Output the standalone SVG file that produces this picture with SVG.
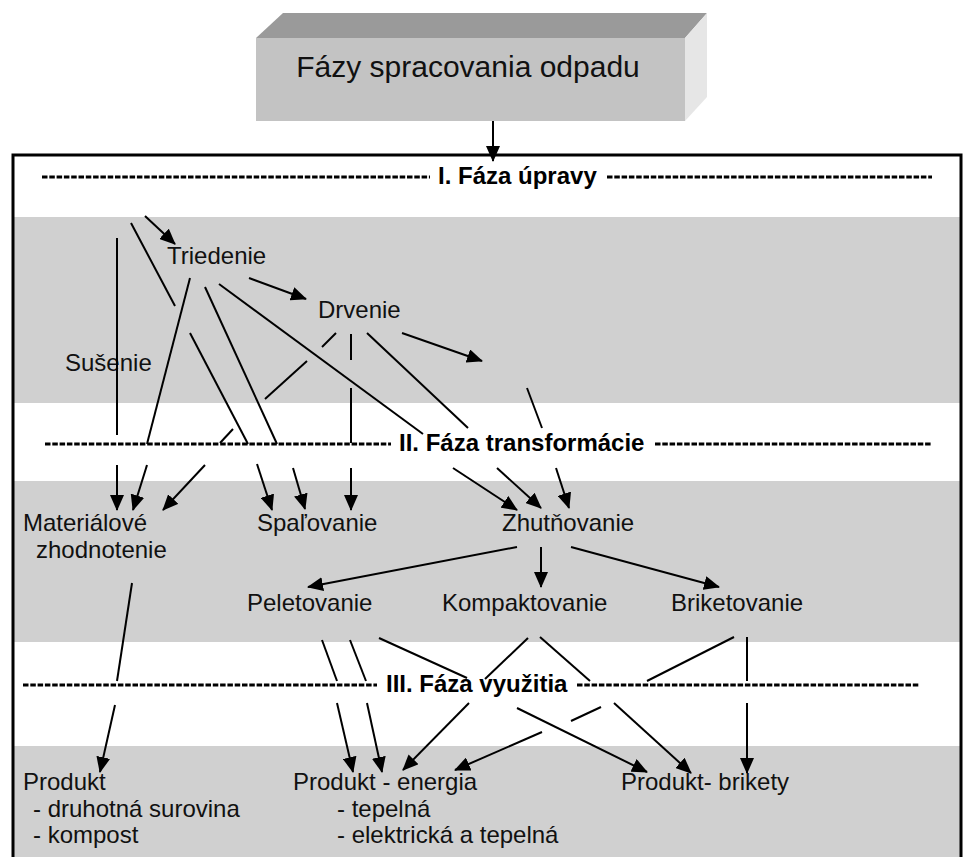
<svg xmlns="http://www.w3.org/2000/svg" width="968" height="857" viewBox="0 0 968 857">
<defs>
<style>
.t{font-family:"Liberation Sans",Arial,sans-serif;font-size:24px;fill:#111}
.b{font-family:"Liberation Sans",Arial,sans-serif;font-size:24px;font-weight:bold;fill:#000}
.band{fill:#d0d0d0}
.dash{stroke:#000;stroke-width:3;stroke-dasharray:5.5 1.8;fill:none}
.c line{stroke:#000;stroke-width:2;fill:none}
.c .a{marker-end:url(#ah)}
</style>
<marker id="ah" markerUnits="userSpaceOnUse" markerWidth="16" markerHeight="14" refX="15" refY="7" orient="auto">
<path d="M0,0 L16,7 L0,14 z" fill="#000"/>
</marker>
</defs>
<rect width="968" height="857" fill="#fff"/>
<!-- bands -->
<rect class="band" x="13" y="217" width="948" height="186"/>
<rect class="band" x="13" y="481" width="948" height="161"/>
<rect class="band" x="13" y="746" width="948" height="111"/>
<!-- frame -->
<path d="M13,870 L13,155 L961,155 L961,870" fill="none" stroke="#000" stroke-width="3"/>

<g id="title">
<polygon points="256,38 283,13 707,13 685,38" fill="#9a9a9a"/>
<polygon points="685,38 707,13 707,97 685,121" fill="#e6e6e6"/>
<rect x="256" y="38" width="429" height="83" fill="#c3c3c3"/>
<text x="468" y="77" text-anchor="middle" class="t" style="font-size:30px">Fázy spracovania odpadu</text>
</g>

<g id="phase1">
<line class="dash" x1="42" y1="177" x2="430" y2="177"/>
<text class="b" x="438" y="184">I. Fáza úpravy</text>
<line class="dash" x1="607" y1="177" x2="932" y2="177"/>
</g>
<g id="phase2">
<line class="dash" x1="45" y1="444" x2="391" y2="444"/>
<text class="b" x="399" y="451">II. Fáza transformácie</text>
<line class="dash" x1="655" y1="444" x2="932" y2="444"/>
</g>
<g id="phase3">
<line class="dash" x1="23" y1="685" x2="377" y2="685"/>
<text class="b" x="386" y="692">III. Fáza využitia</text>
<line class="dash" x1="577" y1="685" x2="919" y2="685"/>
</g>

<g id="triedenie"><text class="t" x="167" y="264">Triedenie</text></g>
<g id="drvenie"><text class="t" x="318" y="318">Drvenie</text></g>
<g id="susenie"><text class="t" x="65" y="371">Sušenie</text></g>
<g id="materialove"><text class="t" x="23" y="531">Materiálové</text><text class="t" x="36" y="558">zhodnotenie</text></g>
<g id="spalovanie"><text class="t" x="257" y="531">Spaľovanie</text></g>
<g id="zhutnovanie"><text class="t" x="502" y="531">Zhutňovanie</text></g>
<g id="peletovanie"><text class="t" x="247" y="611">Peletovanie</text></g>
<g id="kompaktovanie"><text class="t" x="442" y="611">Kompaktovanie</text></g>
<g id="briketovanie"><text class="t" x="671" y="611">Briketovanie</text></g>
<g id="produkt1"><text class="t" x="23" y="790">Produkt</text><text class="t" x="33" y="817">- druhotná surovina</text><text class="t" x="33" y="843">- kompost</text></g>
<g id="produkt2"><text class="t" x="293" y="790">Produkt - energia</text><text class="t" x="337" y="817">- tepelná</text><text class="t" x="337" y="843">- elektrická a tepelná</text></g>
<g id="produkt3"><text class="t" x="621" y="790">Produkt- brikety</text></g>

<g id="connectors" class="c">
<line class="a" x1="493" y1="121" x2="493" y2="161"/>
<!-- phase I -->
<line class="a" x1="145" y1="216" x2="175" y2="244"/>
<line class="a" x1="249" y1="278" x2="306" y2="299"/>
<line class="a" x1="402" y1="333" x2="482" y2="361"/>
<line x1="131" y1="223" x2="175" y2="306"/>
<line x1="190" y1="333" x2="248" y2="444"/>
<line x1="117" y1="238" x2="117" y2="435"/>
<line x1="190" y1="278" x2="147" y2="444"/>
<line x1="205" y1="287" x2="277" y2="444"/>
<line x1="219" y1="284" x2="423" y2="434"/>
<line x1="336" y1="333" x2="322" y2="347"/>
<line x1="307" y1="361" x2="265" y2="399"/>
<line x1="233" y1="429" x2="220" y2="443"/>
<line x1="351" y1="334" x2="351" y2="360"/>
<line x1="351" y1="388" x2="351" y2="443"/>
<line x1="367" y1="333" x2="468" y2="428"/>
<line x1="527" y1="388" x2="542" y2="428"/>
<!-- phase II arrows -->
<line class="a" x1="117" y1="465" x2="117" y2="510"/>
<line class="a" x1="147" y1="465" x2="133" y2="510"/>
<line class="a" x1="205" y1="465" x2="163" y2="510"/>
<line class="a" x1="257" y1="464" x2="272" y2="510"/>
<line class="a" x1="293" y1="468" x2="305" y2="509"/>
<line class="a" x1="351" y1="468" x2="351" y2="510"/>
<line class="a" x1="453" y1="468" x2="517" y2="510"/>
<line class="a" x1="497" y1="468" x2="541" y2="508"/>
<line class="a" x1="556" y1="468" x2="569" y2="508"/>
<line class="a" x1="517" y1="547" x2="308" y2="587"/>
<line class="a" x1="541" y1="547" x2="541" y2="587"/>
<line class="a" x1="571" y1="547" x2="719" y2="587"/>
<!-- phase III -->
<line x1="132" y1="583" x2="117" y2="681"/>
<line class="a" x1="115" y1="705" x2="100" y2="772"/>
<line x1="322" y1="640" x2="337" y2="681"/>
<line x1="350" y1="640" x2="366" y2="681"/>
<line class="a" x1="337" y1="703" x2="353" y2="772"/>
<line class="a" x1="367" y1="703" x2="382" y2="772"/>
<line x1="379" y1="638" x2="467" y2="678"/>
<line class="a" x1="517" y1="708" x2="647" y2="772"/>
<line x1="528" y1="638" x2="485" y2="679"/>
<line class="a" x1="469" y1="703" x2="403" y2="770"/>
<line x1="540" y1="637" x2="590" y2="681"/>
<line class="a" x1="614" y1="703" x2="691" y2="773"/>
<line x1="734" y1="637" x2="647" y2="681"/>
<line x1="601" y1="707" x2="571" y2="721"/>
<line class="a" x1="542" y1="732" x2="455" y2="770"/>
<line x1="747" y1="637" x2="747" y2="681"/>
<line class="a" x1="747" y1="703" x2="747" y2="773"/>
</g>
</svg>
